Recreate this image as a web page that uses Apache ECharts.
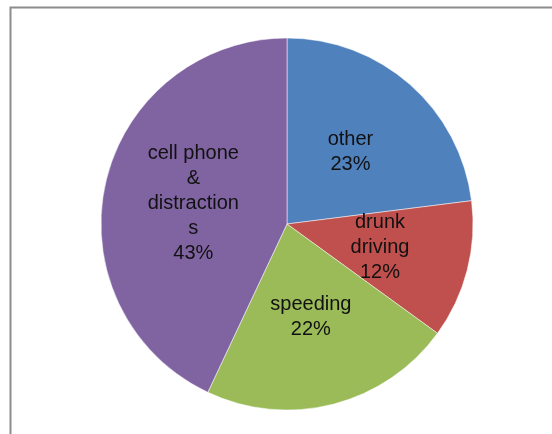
<!DOCTYPE html>
<html>
<head>
<meta charset="utf-8">
<script src="https://cdn.jsdelivr.net/npm/echarts@6/dist/echarts.min.js"></script>
<style>
html,body{margin:0;padding:0;background:#fff;}
#chart{width:552px;height:434px;}
</style>
</head>
<body>
<div id="chart"></div>
<script>
const categories = ["other", "drunk driving", "speeding", "cell phone & distractions"];
const values = [23, 12, 22, 43];
const wrappedLabels = ["other", "drunk\ndriving", "speeding", "cell phone\n&\ndistraction\ns"];
const colors = ["#4F81BD", "#C0504D", "#9BBB59", "#8064A2"];

const chart = echarts.init(document.getElementById('chart'), null, {renderer: 'canvas'});
chart.setOption({
  animation: false,
  backgroundColor: '#ffffff',
  graphic: [{
    type: 'rect',
    shape: {x: 10.5, y: 7.5, width: 600, height: 500},
    style: {fill: 'none', stroke: '#8c8c8c', lineWidth: 2},
    silent: true
  }],
  series: [{
    type: 'pie',
    center: [287, 224],
    radius: 186,
    startAngle: 90,
    clockwise: true,
    label: {
      show: true,
      position: 'inside',
      formatter: p => wrappedLabels[p.dataIndex] + '\n' + p.value + '%',
      fontFamily: 'Liberation Sans',
      fontSize: 20,
      lineHeight: 25,
      color: '#111111',
      textBorderWidth: 0
    },
    labelLine: {show: false},
    itemStyle: {borderColor: '#ffffff', borderWidth: 0.5},
    emphasis: {disabled: true},
    data: categories.map((c, i) => ({name: c, value: values[i], itemStyle: {color: colors[i]}}))
  }]
});
</script>
</body>
</html>
